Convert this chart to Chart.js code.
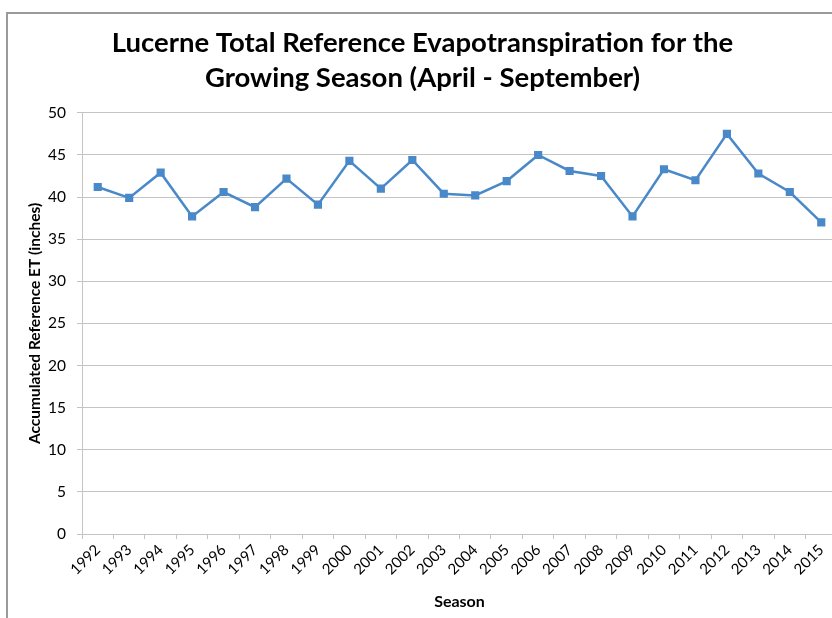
<!DOCTYPE html>
<html>
<head>
<meta charset="utf-8">
<title>Lucerne Total Reference ET</title>
<script src="https://cdn.jsdelivr.net/npm/chart.js@4"></script>
<style>
  html, body { margin: 0; padding: 0; background: #fff; overflow: hidden; }
  #wrap { position: relative; width: 832px; height: 618px; overflow: hidden; }
  #frame { position: absolute; left: 6px; top: 12px; width: 900px; height: 700px;
           border-left: 2px solid #9a9a9a; border-top: 2px solid #9a9a9a; }
  #chartET { position: absolute; left: 0; top: 0; }
</style>
</head>
<body>
<div id="wrap">
  <div id="frame"></div>
  <canvas id="chartET" width="860" height="618"></canvas>
</div>
<script>
// Season (April - September) totals, inches
const seasons = ['1992', '1993', '1994', '1995', '1996', '1997', '1998', '1999', '2000', '2001', '2002', '2003',
                 '2004', '2005', '2006', '2007', '2008', '2009', '2010', '2011', '2012', '2013', '2014', '2015'];
const totalET = [41.2, 39.9, 42.9, 37.7, 40.6, 38.8, 42.2, 39.1, 44.3, 41.0, 44.4, 40.4,
                 40.2, 41.9, 45.0, 43.1, 42.5, 37.7, 43.3, 42.0, 47.5, 42.8, 40.6, 37.0];
const yTicks = [0, 5, 10, 15, 20, 25, 30, 35, 40, 45, 50];

const FONT = 'Lato, "Open Sans", sans-serif';
const GRID = '#c4c4c4';

const ctx = document.getElementById('chartET');
new Chart(ctx, {
    type: 'line',
    data: {
        labels: seasons,
        datasets: [{
            label: 'Total Reference ET',
            data: totalET,
            borderColor: '#4a89c9',
            backgroundColor: '#4a89c9',
            borderWidth: 2.5,
            pointStyle: 'rect',
            pointRadius: 4,
            pointHoverRadius: 4,
            tension: 0
        }]
    },
    options: {
        responsive: false,
        animation: false,
        layout: { padding: { top: 20, left: 8, right: 23, bottom: 4 } },
        plugins: {
            legend: { display: false },
            tooltip: { enabled: false },
            title: {
                display: true,
                text: ['Lucerne Total Reference Evapotranspiration for the', 'Growing Season (April - September)'],
                color: '#000',
                font: { family: FONT, size: 27.5, weight: 'bold', lineHeight: 1.27 },
                padding: { top: 6, bottom: 17 }
            }
        },
        scales: {
            x: {
                offset: true,
                grid: { drawOnChartArea: false, offset: true, tickLength: 5, color: GRID },
                border: { color: GRID },
                ticks: {
                    autoSkip: false, minRotation: 45, maxRotation: 45,
                    color: '#000', font: { family: FONT, size: 15 }, padding: 2
                },
                title: {
                    display: true, text: 'Season', color: '#000',
                    font: { family: FONT, size: 16, weight: 'bold' }, padding: { top: 4, bottom: 3 }
                },
                afterFit: s => { s.height = 80; }
            },
            y: {
                min: 0, max: 50,
                afterBuildTicks: s => { s.ticks = yTicks.map(v => ({ value: v })); },
                grid: { color: GRID, tickLength: 5 },
                border: { color: GRID },
                ticks: { color: '#000', font: { family: FONT, size: 15.5 }, padding: 11 },
                title: {
                    display: true, text: 'Accumulated Reference ET (inches)', color: '#000',
                    font: { family: FONT, size: 15.5, weight: 'bold' }, padding: { top: 18, bottom: 4 }
                },
                afterFit: s => { s.width = 74; }
            }
        }
    }
});
</script>
</body>
</html>
